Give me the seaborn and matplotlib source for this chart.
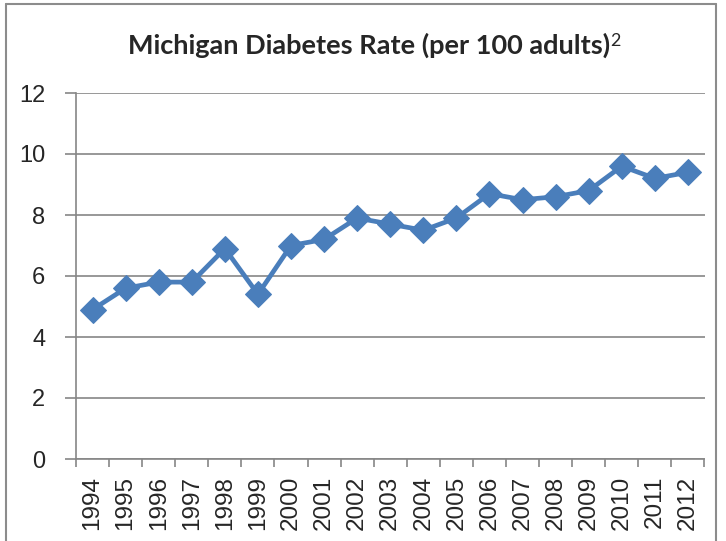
import numpy as np
import pandas as pd
import matplotlib
matplotlib.use("Agg")
import matplotlib.pyplot as plt
import seaborn as sns
from matplotlib.lines import Line2D

years = ["1994", "1995", "1996", "1997", "1998", "1999", "2000", "2001", "2002", "2003",
         "2004", "2005", "2006", "2007", "2008", "2009", "2010", "2011", "2012"]
rates = [4.9, 5.6, 5.8, 5.8, 6.9, 5.4, 7.0, 7.2, 7.9, 7.7,
         7.5, 7.9, 8.7, 8.5, 8.6, 8.8, 9.6, 9.2, 9.4]
yticks = [0, 2, 4, 6, 8, 10, 12]
title_main = "Michigan Diabetes Rate (per 100 adults)"
title_sup = "2"

sns.set_theme(style="white")
plt.rcParams['font.family'] = ['Liberation Sans', 'DejaVu Sans']

df = pd.DataFrame({"pos": np.arange(len(years)), "rate": rates})

fig = plt.figure(figsize=(7.26, 5.41), dpi=100)
ax = fig.add_axes([76/726, 1-459/541, (704.5-76)/726, (459-93)/541])

grid_c = "#868686"
line_c = "#4A7EBB"

sns.lineplot(data=df, x="pos", y="rate", ax=ax, color=line_c, linewidth=3.4,
             marker="D", markersize=13, markeredgecolor=line_c, markerfacecolor=line_c)

ax.set_xlim(-0.5, len(years) - 0.5)
ax.set_ylim(0, 12)
ax.set_yticks(yticks)
ax.set_yticklabels([str(v) for v in yticks], fontsize=17)
ax.yaxis.grid(True, color=grid_c, linewidth=1.2)
ax.xaxis.grid(False)
ax.set_axisbelow(True)

ax.set_xticks(np.arange(len(years)))
ax.set_xticklabels(years, rotation=90, fontsize=17.5)
ax.set_xticks(np.arange(len(years) + 1) - 0.5, minor=True)
ax.tick_params(axis="x", which="major", length=0, pad=12)
ax.tick_params(axis="x", which="minor", length=6, width=1.2, color=grid_c, direction="out", bottom=True)
ax.tick_params(axis="y", which="major", length=8, width=1.2, color=grid_c, direction="out", left=True, pad=14)

for s in ["top", "right"]:
    ax.spines[s].set_visible(False)
for s in ["left", "bottom"]:
    ax.spines[s].set_color(grid_c)
    ax.spines[s].set_linewidth(1.2)
ax.set_xlabel("")
ax.set_ylabel("")

# title
t = fig.text(0.508, 1-45/541, title_main, ha="center", va="center", fontsize=19.5,
             fontweight="bold", family=["Lato", "DejaVu Sans"])
fig.canvas.draw()
bb = t.get_window_extent(renderer=fig.canvas.get_renderer())
fig.text(bb.x1 / fig.bbox.width + 0.001, (bb.y1 - 1) / fig.bbox.height, title_sup,
         ha="left", va="top", fontsize=13, family=["Lato", "DejaVu Sans"])

# outer frame
fc = "#8c8c8c"
fig.add_artist(Line2D([6/726, 6/726], [0, 1-4/541], transform=fig.transFigure, color=fc, lw=1.5))
fig.add_artist(Line2D([6/726, 716/726], [1-4/541, 1-4/541], transform=fig.transFigure, color=fc, lw=1.5))
fig.add_artist(Line2D([716/726, 716/726], [0, 1-4/541], transform=fig.transFigure, color=fc, lw=1.5))

fig.savefig("out.png", dpi=100)
